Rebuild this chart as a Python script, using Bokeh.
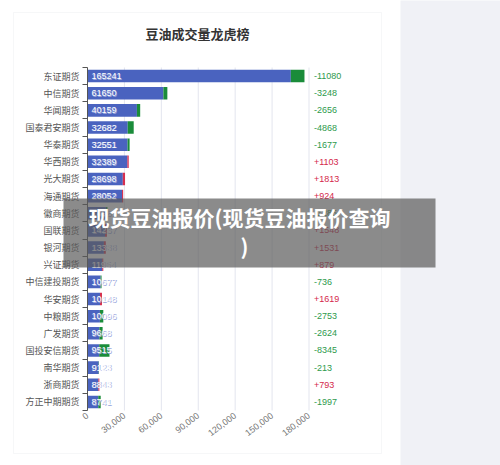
from bokeh.plotting import figure
from bokeh.models import (ColumnDataSource, Range1d, FixedTicker, NumeralTickFormatter,
                          BoxAnnotation, Label, LinearAxis)
from bokeh.core.properties import value
from bokeh.embed import file_html
from bokeh.resources import INLINE

# ---- data ----
brokers = ["东证期货", "中信期货", "华闻期货", "国泰君安期货", "华泰期货", "华西期货",
           "光大期货", "海通期货", "徽商期货", "国联期货", "银河期货", "兴证期货",
           "中信建投期货", "华安期货", "中粮期货", "广发期货", "国投安信期货",
           "南华期货", "浙商期货", "方正中期期货"]
volumes = [165241, 61650, 40159, 32682, 32551, 32389, 28698, 28052, 14982, 14237,
           13338, 11954, 10677, 10148, 10096, 9668, 9515, 9123, 8843, 8741]
changes = [-11080, -3248, -2656, -4868, -1677, 1103, 1813, 924, -1285, 1548,
           1531, 879, -736, 1619, -2753, -2624, -8345, -213, 793, -1997]
x_ticks = [0, 30000, 60000, 90000, 120000, 150000, 180000]
chart_title = "豆油成交量龙虎榜"
banner_lines = ["现货豆油报价(现货豆油报价查询", ")"]

CJK = "Noto Sans CJK SC"
LAT = "Liberation Sans"
BLUE = "#4a63bf"
GREEN = "#1a8c3a"
RED = "#d62f4f"
GREEN_T = "#2e9a4c"
RED_T = "#d4284a"

n = len(brokers)
ypos = [n - 1 - i for i in range(n)]
src = ColumnDataSource(dict(
    y=ypos,
    vol=volumes,
    end=[v + abs(c) for v, c in zip(volumes, changes)],
    col=[GREEN if c < 0 else RED for c in changes],
    tcol=[GREEN_T if c < 0 else RED_T for c in changes],
    vol_s=[str(v) for v in volumes],
    chg_s=[f"{c:+d}" for c in changes],
))

# layout (canvas px): plot area left 87, 180000 at 308.5, top 67, bottom 410
W, H = 500, 465
FL, FT, FB = 87, 67, 410
X_MAX_PX = 221.5
k = x_ticks[-1] / X_MAX_PX
unit = (FB - FT) / n

p = figure(width=W, height=H, output_backend="svg", toolbar_location=None,
           x_range=Range1d(-FL * k, (W - FL) * k),
           y_range=Range1d(-0.5 - (H - FB) / unit, n - 0.5 + FT / unit),
           x_axis_location=None, y_axis_location=None,
           min_border_left=0, min_border_right=0, min_border_top=0, min_border_bottom=0,
           background_fill_color="white", border_fill_color="white")
p.outline_line_color = None
p.xgrid.visible = False
p.ygrid.visible = False

# x axis drawn at the bottom of the bar area
xa = LinearAxis(fixed_location=-0.5, bounds=(0, x_ticks[-1]))
xa.ticker = FixedTicker(ticks=x_ticks)
xa.formatter = NumeralTickFormatter(format="0,0")
xa.axis_line_color = None
xa.major_tick_line_color = None
xa.minor_tick_line_color = None
xa.major_tick_out = 0
xa.major_tick_in = 0
xa.major_label_orientation = 0.65
xa.major_label_standoff = 4
xa.major_label_text_font = LAT
xa.major_label_text_font_size = "9px"
xa.major_label_text_color = "#777777"
p.add_layout(xa, "below")

# y axis with ticks between categories
ya = LinearAxis(fixed_location=0, bounds=(-0.5, n - 0.5))
ya.ticker = FixedTicker(ticks=ypos, minor_ticks=[j - 0.5 for j in range(n + 1)])
ya.major_label_overrides = {y: b for y, b in zip(ypos, brokers)}
ya.major_tick_line_color = None
ya.major_tick_out = 0
ya.major_tick_in = 0
ya.minor_tick_out = 5
ya.minor_tick_in = 0
ya.minor_tick_line_color = "#555555"
ya.axis_line_color = "#555555"
ya.major_label_standoff = 3
ya.major_label_text_font = CJK
ya.major_label_text_font_size = "9px"
ya.major_label_text_color = "#555555"
p.add_layout(ya, "left")

# page decorations (screen units = canvas px, y measured from the bottom)
def sy(y):
    return H - y

def box(l, r, t, b, **kw):
    return BoxAnnotation(left=l, right=r, top=sy(t), bottom=sy(b),
                         left_units="screen", right_units="screen",
                         top_units="screen", bottom_units="screen", **kw)

p.add_layout(box(400, 505, -5, 470, fill_color="#f0f1f6", fill_alpha=1,
                 line_color=None, level="underlay"))
p.add_layout(box(13, 381, 12, 453, fill_color=None, fill_alpha=0,
                 line_color="#e2e3e8", line_width=1, level="underlay"))

# vertical grid lines inside the bar area
p.segment(x0=x_ticks, x1=x_ticks, y0=-0.5, y1=n - 0.5, line_color="#e3e5ee", line_width=1)

# bars
p.hbar(y="y", left=0, right="vol", height=0.73, fill_color=BLUE, line_color=None, source=src)
p.hbar(y="y", left="vol", right="end", height=0.73, fill_color="col", line_color=None, source=src)

# value labels: soft bluish shadow then white text
p.text(x=0, y="y", text="vol_s", x_offset=4.7, y_offset=0.7, text_align="left",
       text_baseline="middle", text_font=value(LAT), text_font_size="9px",
       text_color="#9ca8dd", source=src)
p.text(x=0, y="y", text="vol_s", x_offset=4, text_align="left", text_baseline="middle",
       text_font=value(LAT), text_font_size="9px", text_color="white", source=src)
p.text(x=x_ticks[-1], y="y", text="chg_s", x_offset=5, text_align="left", text_baseline="middle",
       text_font=value(LAT), text_font_size="9px", text_color="tcol", source=src)

p.add_layout(Label(x=197, y=sy(33), x_units="screen", y_units="screen", text=chart_title,
                   text_align="center", text_baseline="middle", text_font=CJK,
                   text_font_size="13px", text_font_style="bold", text_color="#333333"))

p.add_layout(box(63, 435, 198, 267, fill_color="#5a5a5a", fill_alpha=0.7,
                 line_color=None, level="annotation"))
p.add_layout(Label(x=239, y=sy(216), x_units="screen", y_units="screen", text=banner_lines[0],
                   text_align="center", text_baseline="middle", text_font=CJK,
                   text_font_size="21px", text_font_style="bold", text_color="white",
                   level="overlay"))
p.add_layout(Label(x=244, y=sy(245), x_units="screen", y_units="screen", text=banner_lines[1],
                   text_align="center", text_baseline="middle", text_font=CJK,
                   text_font_size="21px", text_font_style="bold", text_color="white",
                   level="overlay"))

open("out.html", "w").write(file_html(p, INLINE))
